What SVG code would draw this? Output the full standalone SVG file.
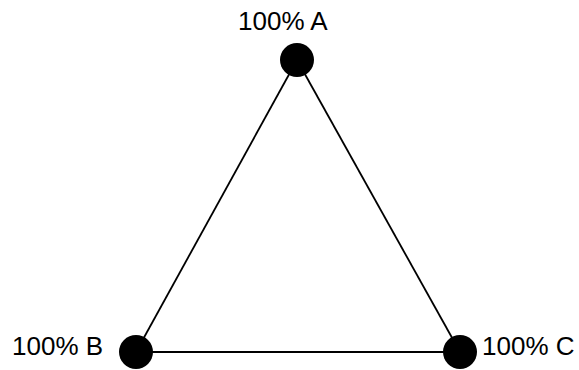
<svg xmlns="http://www.w3.org/2000/svg" width="579" height="370" viewBox="0 0 579 370">
<style>
.n{fill:#000}
.t{font-family:"Liberation Sans",Arial,sans-serif;font-size:26px;fill:#000}
.e{stroke:#000;stroke-width:1.8;fill:none}
</style>
<rect width="579" height="370" fill="#fff"/>
<g id="connectors">
<line class="e" x1="297" y1="60" x2="136" y2="352"/>
<line class="e" x1="297" y1="60" x2="460" y2="352"/>
<line class="e" x1="136" y1="352" x2="460" y2="352"/>
</g>
<g id="nodeA"><circle class="n" cx="297" cy="60" r="17"/><text class="t" x="238" y="30">100% A</text></g>
<g id="nodeB"><circle class="n" cx="136" cy="352" r="17"/><text class="t" x="12" y="355">100% B</text></g>
<g id="nodeC"><circle class="n" cx="460" cy="352" r="17"/><text class="t" x="482" y="355">100% C</text></g>
</svg>
